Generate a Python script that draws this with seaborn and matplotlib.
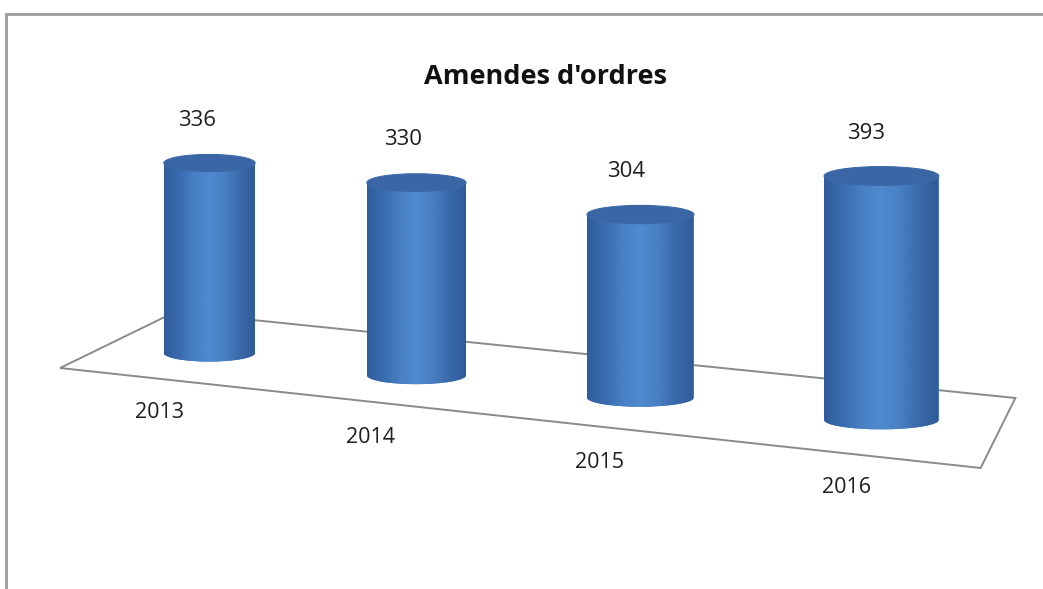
import numpy as np
import pandas as pd
import matplotlib
matplotlib.use("Agg")
import matplotlib.pyplot as plt
import seaborn as sns
from matplotlib.patches import Ellipse, Polygon, Rectangle
from matplotlib.colors import LinearSegmentedColormap

# --- data -------------------------------------------------------------
years = ["2013", "2014", "2015", "2016"]
amendes = [336, 330, 304, 393]
title = "Amendes d'ordres"

df = pd.DataFrame({"annee": years, "amendes": amendes})

# --- style ------------------------------------------------------------
sns.set_theme(style="white")
plt.rcParams["font.family"] = ["Open Sans", "DejaVu Sans"]

W, H = 1043, 589
fig = plt.figure(figsize=(W / 100, H / 100), dpi=100)
fig.patch.set_facecolor("white")
ax = fig.add_axes([0, 0, 1, 1])

# cylinder bodies from seaborn bars
bar_w = 0.46
sns.barplot(data=df, x="annee", y="amendes", width=bar_w, color="#4078bb",
            saturation=1, ax=ax, zorder=2)
ax.set_axis_off()

# perspective along the category axis: steps widen toward the viewer
A, B = 198.5, 8.5


def persp_fwd(x):
    x = np.asarray(x, dtype=float)
    return A * x + B * x * x


def persp_inv(u):
    u = np.asarray(u, dtype=float)
    disc = np.maximum(A * A + 4 * B * u, 0.0)
    return (-A + np.sqrt(disc)) / (2 * B)


ax.set_xscale("function", functions=(persp_fwd, persp_inv))
x0_px = 209.0
ax.set_xlim(float(persp_inv(-x0_px)), float(persp_inv(W - x0_px)))

unit_px = 0.593
base_row = 353.0
ax.set_ylim((base_row - H) / unit_px, base_row / unit_px)
ax.set_axis_off()

drop = 22.3 / unit_px          # floor descends toward the right
persp = 0.031                  # bars nearer the viewer look taller
cap_h = 18.0 / unit_px         # height of the elliptical caps

body_cmap = LinearSegmentedColormap.from_list(
    "cyl", ["#305d9c", "#3a6caf", "#4880c4", "#508acf", "#4880c3", "#3a69a9", "#2f5a98"])
grad = np.linspace(0, 1, 256)[np.newaxis, :]

# floor plane
floor = Polygon([(-0.776, -25.3), (3.394, -193.9), (3.529, -75.9), (-0.173, 69.1)],
                closed=True, facecolor="none", edgecolor="#8a8a8a", lw=1.4, zorder=1)
ax.add_patch(floor)

for i, (bar, val, yr) in enumerate(zip(ax.containers[0], amendes, years)):
    f = 1 + persp * (i - 1.5)
    cx = bar.get_x() + bar.get_width() / 2
    w = bar_w
    y0 = -drop * i
    h = val * f
    eh = cap_h * f
    bar.set_y(y0)
    bar.set_height(h)
    bar.set_edgecolor("none")

    # rounded front of the base
    base = Ellipse((cx, y0), w, eh, facecolor="#4078bb", edgecolor="none", zorder=2)
    ax.add_patch(base)

    for clip in (bar, base):
        im = ax.imshow(grad, cmap=body_cmap, aspect="auto", interpolation="bicubic",
                       extent=(cx - w / 2, cx + w / 2, y0 - eh, y0 + h), zorder=3)
        im.set_clip_path(clip)

    top = Ellipse((cx, y0 + h), w, eh, facecolor="#3a66a5", edgecolor="#3b6aa9",
                  lw=0.8, zorder=4)
    ax.add_patch(top)

    # value label above the cylinder
    ax.text(cx - 0.06, y0 + h + 43 / unit_px, str(val), ha="center", va="center",
            fontsize=16, color="#1e1e1e", zorder=5)
    # category label in front of the floor
    ax.text(cx - 0.25 * (1 - 0.15 * i), y0 - (59 + 2.8 * i) / unit_px, yr,
            ha="center", va="center", fontsize=15.5, color="#1e1e1e", zorder=5)

fig.text(545 / W, 1 - 77 / H, title, ha="center", va="center",
         fontsize=19.5, fontweight="bold", color="#111111")

# chart area border
fig.add_artist(Rectangle((6 / W, -0.02), 1.05, 1 - 14 / H + 0.02, transform=fig.transFigure,
                         facecolor="none", edgecolor="#9a9a9a", lw=2.0))

fig.savefig("out.png", dpi=100, facecolor="white")
